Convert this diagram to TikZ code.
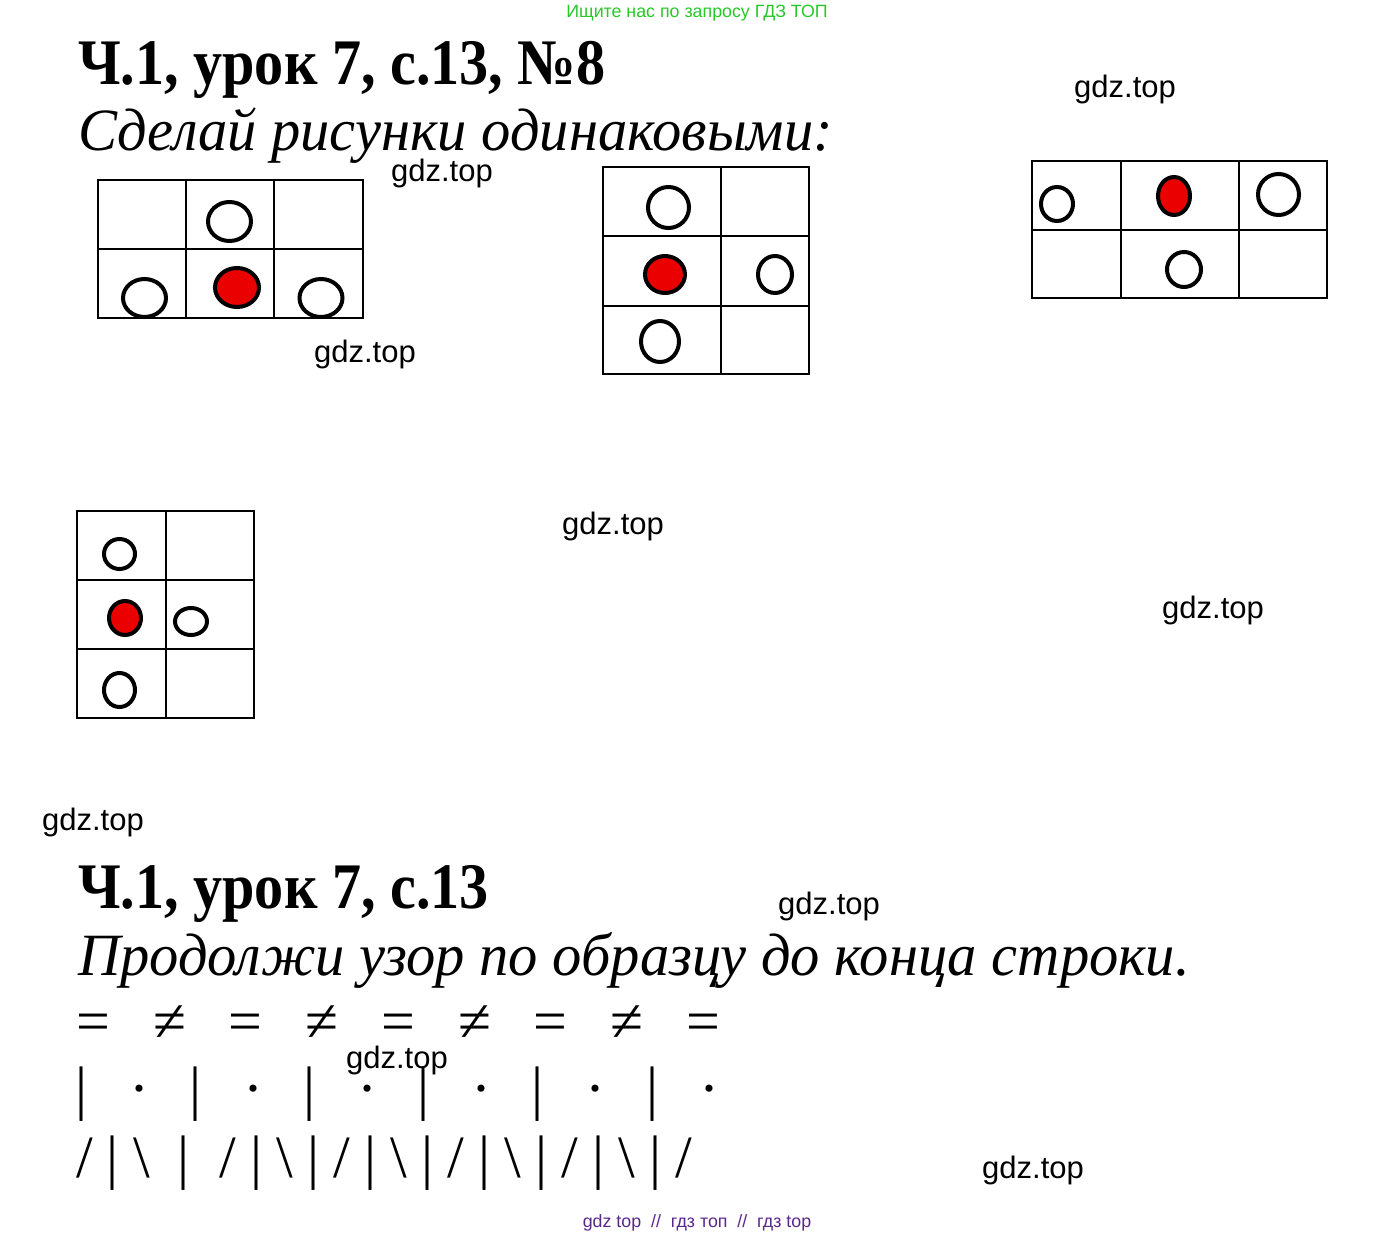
\documentclass[tikz,border=0pt]{standalone}
\usepackage{fontspec}
\setmainfont{Liberation Serif}
\newfontfamily\headfont[FakeStretch=0.895]{Liberation Serif}
\newfontfamily\taskfont[FakeStretch=0.975]{Liberation Serif}
\newfontfamily\wmfont{Liberation Sans}
\usepackage{xcolor}
\definecolor{notegreen}{RGB}{40,200,40}
\definecolor{notepurple}{RGB}{90,40,140}
\definecolor{dotred}{RGB}{235,0,0}

\tikzset{
  txt/.style={inner sep=0pt, anchor=base west},
  wm/.style={inner sep=0pt, anchor=base, font=\wmfont\fontsize{31}{36}\selectfont},
  glyph/.style={inner sep=0pt, anchor=base, font=\fontsize{60}{70}\selectfont},
  cell/.style={line width=2pt},
  ring/.style={line width=4pt},
  filled/.style={line width=4pt, fill=dotred}
}

\begin{document}
\begin{tikzpicture}[x=1pt,y=-1pt]
\fill[white] (0,0) rectangle (1395,1236);
\useasboundingbox (0,0) rectangle (1395,1236);

% headings
\node[anchor=base, inner sep=0pt, text=notegreen, font=\wmfont\fontsize{17.8}{20}\selectfont] (topnote) at (697,18) {Ищите нас по запросу ГДЗ ТОП};
\node[txt, font=\headfont\bfseries\fontsize{65}{70}\selectfont] (title1) at (78,85) {Ч.1, урок 7, с.13, №8};
\node[txt, font=\taskfont\itshape\fontsize{60}{66}\selectfont] (task1) at (78,150) {Сделай рисунки одинаковыми:};

% grid 1
\draw[cell] (98,180) rectangle (363,318);
\draw[cell] (186,180) -- (186,318) (274,180) -- (274,318) (98,249) -- (363,249);
\draw[ring] (229.5,221.5) ellipse [x radius=21.5pt, y radius=19.5pt];
\draw[filled] (237,287.5) ellipse [x radius=22pt, y radius=19.5pt];
\draw[ring] (144.5,298) ellipse [x radius=21.5pt, y radius=19pt];
\draw[ring] (321,298) ellipse [x radius=21.5pt, y radius=19pt];

% grid 2
\draw[cell] (603,167) rectangle (809,374);
\draw[cell] (721,167) -- (721,374) (603,236) -- (809,236) (603,306) -- (809,306);
\draw[ring] (668.5,207.5) ellipse [x radius=20.5pt, y radius=20.5pt];
\draw[filled] (665,274.5) ellipse [x radius=20pt, y radius=18.5pt];
\draw[ring] (775,274.5) ellipse [x radius=17pt, y radius=18.5pt];
\draw[ring] (660,341.5) ellipse [x radius=19pt, y radius=20.5pt];

% grid 3
\draw[cell] (1032,161) rectangle (1327,298);
\draw[cell] (1121,161) -- (1121,298) (1239,161) -- (1239,298) (1032,230) -- (1327,230);
\draw[ring] (1057,204) ellipse [x radius=16pt, y radius=17pt];
\draw[filled] (1174,196) ellipse [x radius=16pt, y radius=19pt];
\draw[ring] (1278.5,194.5) ellipse [x radius=20.5pt, y radius=20.5pt];
\draw[ring] (1184,269.5) ellipse [x radius=17pt, y radius=17.5pt];

% grid 4
\draw[cell] (77,511) rectangle (254,718);
\draw[cell] (166,511) -- (166,718) (77,580) -- (254,580) (77,649) -- (254,649);
\draw[ring] (119.5,554) ellipse [x radius=15.5pt, y radius=15pt];
\draw[filled] (125,618) ellipse [x radius=16pt, y radius=17pt];
\draw[ring] (191,621.5) ellipse [x radius=16pt, y radius=13.5pt];
\draw[ring] (119.5,690) ellipse [x radius=15.5pt, y radius=17pt];

% second task
\node[txt, font=\headfont\bfseries\fontsize{65}{70}\selectfont] (title2) at (78,908) {Ч.1, урок 7, с.13};
\node[txt, font=\taskfont\itshape\fontsize{60}{66}\selectfont] (task2) at (78,975) {Продолжи узор по образцу до конца строки.};

% pattern rows
\foreach \i in {0,...,8}
  \node[glyph] (eq\i) at ({93.5+76.2*\i},1041) {\ifodd\i ≠\else =\fi};
\foreach \i in {0,...,5} {
  \node[glyph] (bar\i) at ({82+114*\i},1108) {\textbar};
  \node[glyph] (dot\i) at ({139+114*\i},1108) {·};
}
\foreach \x/\k [count=\n] in {84.5/0,113/1,141.5/2,184/1,228/0,256.5/1,285/2,313.5/1,342/0,370.5/1,399/2,427.5/1,456/0,484.5/1,513/2,541.5/1,570/0,598.5/1,627/2,655.5/1,684/0}
  \node[glyph] (stroke\n) at (\x,1177) {\ifcase\k /\or\textbar\or\textbackslash\fi};

% watermarks
\node[wm] (wm1) at (1125,98) {gdz.top};
\node[wm] (wm2) at (442,182) {gdz.top};
\node[wm] (wm3) at (365,362) {gdz.top};
\node[wm] (wm4) at (613,534) {gdz.top};
\node[wm] (wm5) at (1213,618) {gdz.top};
\node[wm] (wm6) at (93,830) {gdz.top};
\node[wm] (wm7) at (829,914) {gdz.top};
\node[wm] (wm8) at (397,1068) {gdz.top};
\node[wm] (wm9) at (1033,1178) {gdz.top};
\node[anchor=base, inner sep=0pt, text=notepurple, font=\wmfont\fontsize{17.8}{20}\selectfont] (footnote) at (697,1227) {gdz top~~//~~гдз топ~~//~~гдз top};
\end{tikzpicture}
\end{document}
